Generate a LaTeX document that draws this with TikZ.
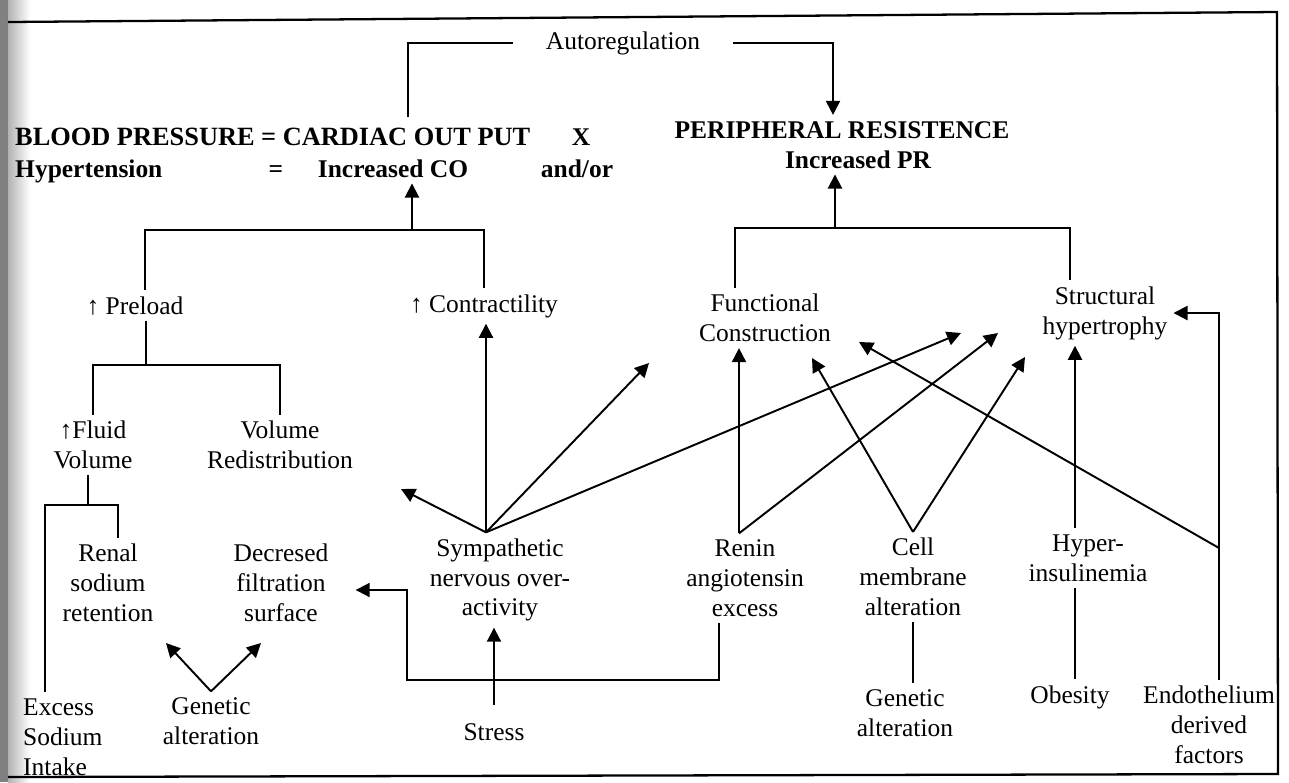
\documentclass[tikz,border=0pt]{standalone}
\usepackage{fontspec}
\setmainfont{Liberation Serif}
\usetikzlibrary{arrows.meta}

\begin{document}
\begin{tikzpicture}[x=0.02cm,y=-0.02cm]

      \useasboundingbox (0,0) rectangle (1289,782);

      % scan edge and frame
      \fill[black!50] (0,0) rectangle (8,782);
      \shade[left color=black!30,right color=white] (8,0) rectangle (30,782);
      \draw[line width=1.3pt] (8,22) -- (1277,12) -- (1278,774) -- (8,777);

      \begin{scope}[every node/.style={font=\fontsize{14.5}{17}\selectfont,align=center},
                    hd/.style={font=\fontsize{14.5}{17}\selectfont\bfseries}]
        \node[anchor=base] (auto) at (623,49) {Autoregulation};

        \node[hd,anchor=base west,font=\fontsize{15}{17}\selectfont\bfseries] (bp) at (9,145) {BLOOD PRESSURE = CARDIAC OUT PUT};
        \node[hd,anchor=base] (mul) at (581,145) {X};
        \node[hd,anchor=base] (pr)  at (842,138) {PERIPHERAL RESISTENCE};
        \node[hd,anchor=base west] (ht) at (9,177) {Hypertension};
        \node[hd,anchor=base] (eq)  at (276,177) {=};
        \node[hd,anchor=base] (ico) at (393,177) {Increased CO};
        \node[hd,anchor=base] (andor) at (577,177) {and/or};
        \node[hd,anchor=base] (ipr) at (858,168) {Increased PR};

        \node[anchor=base] (pre) at (135,314) {\textbf{↑} Preload};
        \node[anchor=base] (con) at (484,312) {\textbf{↑} Contractility};
        \node (fc)  at (765,318) {Functional\\Construction};
        \node (sh)  at (1105,313) {Structural\\hypertrophy};

        \node (fv)  at (93,445)  {\textbf{↑}Fluid\\Volume};
        \node (vr)  at (280,445) {Volume\\Redistribution};

        \node (rs)  at (108,583) {Renal\\sodium\\retention};
        \node (dfs) at (281,583) {Decresed\\filtration\\surface};
        \node (sno) at (500,580) {Sympathetic\\nervous over-\\activity};
        \node (ren) at (745,578) {Renin\\angiotensin\\excess};
        \node (cma) at (913,577) {Cell\\membrane\\alteration};
        \node (hyp) at (1088,558) {Hyper-\\insulinemia};

        \node[anchor=west,align=left] (es) at (17,737) {Excess\\Sodium\\Intake};
        \node (ga1) at (211,721) {Genetic\\alteration};
        \node[anchor=base] (str) at (494,740) {Stress};
        \node (ga2) at (905,713) {Genetic\\alteration};
        \node[anchor=base] (obe) at (1070,703) {Obesity};
        \node (edf) at (1209,725) {Endothelium\\derived\\factors};
      \end{scope}

      \coordinate (co)  at (408,117);
      \coordinate (jco) at (412,230);
      \coordinate (jpr) at (835,228);
      \coordinate (jpl) at (146,365);
      \coordinate (jfv) at (88,505);
      \coordinate (jrd) at (407,680);
      \coordinate (ej)  at (1219,548);
      \coordinate (gl)  at (166,643);
      \coordinate (gr)  at (261,643);
      \coordinate (svr) at (401,489);
      \coordinate (sfc) at (649,363);
      \coordinate (ssh) at (961,333);
      \coordinate (rsh) at (998,333);
      \coordinate (cfc) at (812,358);
      \coordinate (csh) at (1025,357);
      \coordinate (efc) at (859,342);

      \begin{scope}[line width=1.1pt,arr/.style={-{Triangle[length=8pt,width=8pt]}}]
        \draw ([xshift=-0.54cm]auto.west) -| (co);
        \draw[arr] ([xshift=0.54cm]auto.east) -| ([xshift=-0.18cm]pr.north);

        \draw ([xshift=0.2cm]pre.north) |- (jco) -| (con.north);
        \draw[arr] (jco) -- (jco |- ico.south);
        \draw ([xshift=-0.6cm]fc.north) |- (jpr) -| ([xshift=-0.7cm]sh.north);
        \draw[arr] (jpr) -- (jpr |- ipr.south);

        \draw (pre.south -| jpl) -- (jpl);
        \draw (fv.north) |- (jpl) -| (vr.north);
        \draw (fv.south -| jfv) -- (jfv);
        \draw ([xshift=-0.36cm]es.north) |- (jfv) -| ([xshift=0.2cm]rs.north);

        \draw[arr] (ga1.north) -- (gl);
        \draw[arr] (ga1.north) -- (gr);

        \coordinate (sfan) at ([xshift=-0.28cm]sno.north);
        \draw[arr] (sfan) -- (svr);
        \draw[arr] (sfan) -- (sfan |- con.south);
        \draw[arr] (sfan) -- (sfc);
        \draw[arr] (sfan) -- (ssh);
        \draw[arr,shorten <=7pt] (str.north) -- (str.north |- sno.south);

        \coordinate (rtop) at ([xshift=-0.12cm]ren.north);
        \draw[arr] (rtop) -- (rtop |- fc.south);
        \draw[arr] (rtop) -- (rsh);
        \draw[arr,shorten >=12pt] ([xshift=-0.52cm]ren.south) |- (jrd) |- ([yshift=-0.14cm]dfs.east);

        \draw[arr] (cma.north) -- (cfc);
        \draw[arr] (cma.north) -- (csh);
        \draw (cma.south) -- (cma.south |- ga2.north);

        \coordinate (htop) at ([xshift=-0.26cm]hyp.north);
        \coordinate (hbot) at ([xshift=-0.26cm]hyp.south);
        \draw[arr] (htop) -- (htop |- sh.south);
        \draw (hbot) -- (hbot |- obe.north);

        \coordinate (etop) at ([xshift=0.2cm]edf.north);
        \draw[arr] (etop) |- (sh.east);
        \draw[arr] (ej) -- (efc);
      \end{scope}

    \end{tikzpicture}
\end{document}
